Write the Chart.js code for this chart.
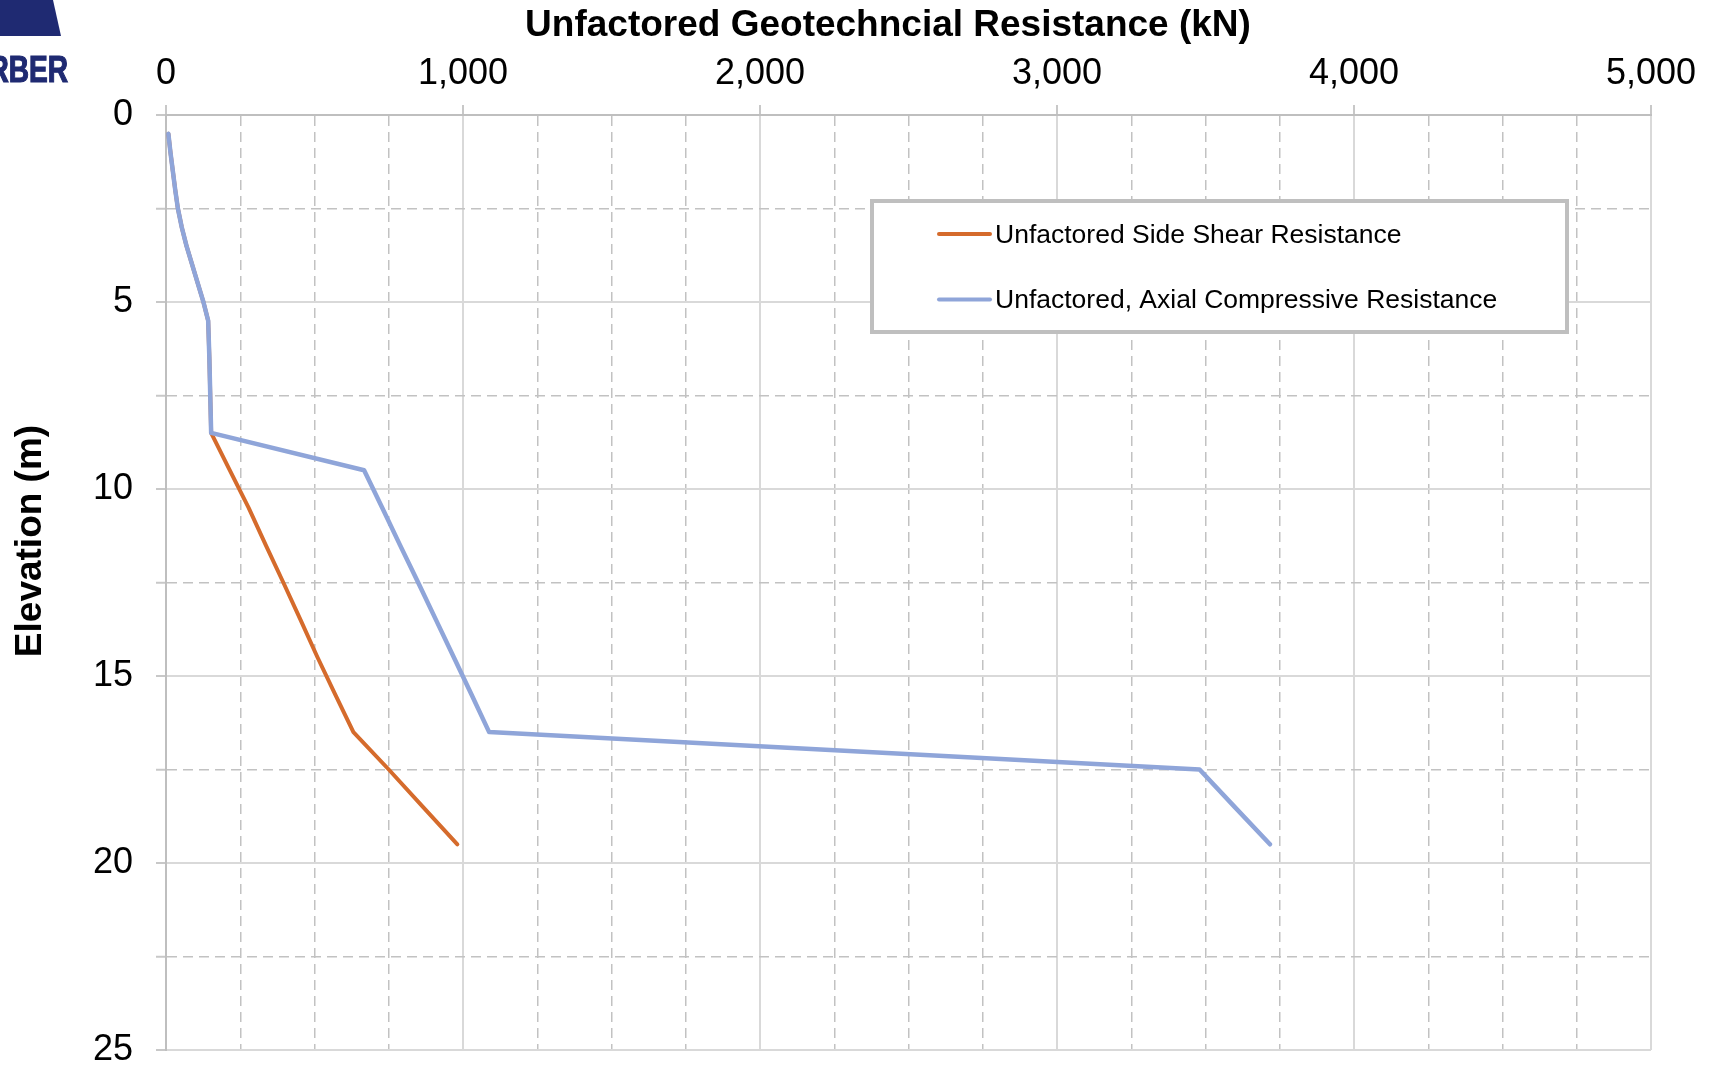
<!DOCTYPE html>
<html><head><meta charset="utf-8">
<script src="https://cdn.jsdelivr.net/npm/chart.js@4.4.0/dist/chart.umd.min.js"></script>
<style>html,body{margin:0;padding:0;background:#fff;overflow:hidden}</style>
</head><body>
<canvas id="c" width="1715" height="1071"></canvas>
<script>
// ---- data ----
const elevations = [0.5,1.0,1.5,2.0,2.5,3.0,3.5,4.0,4.5,5.0,5.5,6.5,7.5,8.5,9.5,10.5,11.5,12.5,13.5,14.5,15.5,16.5,17.5,18.5,19.5];
const sideShear = [8,15,23,31,40,53,69,88,107,126,142,146,149,152,215,278,336,395,453,510,570,631,750,865,981];
const axialCompressive = [8,15,23,31,40,53,69,88,107,126,142,146,149,152,667,728,788,849,909,969,1029,1088,3480,3598,3717];
const seriesLabels = ['Unfactored Side Shear Resistance','Unfactored, Axial Compressive Resistance'];
const xTickLabels = ['0','1,000','2,000','3,000','4,000','5,000'];
const yTickLabels = ['0','5','10','15','20','25'];
const xTitle = 'Unfactored Geotechncial Resistance (kN)';
const yTitle = 'Elevation (m)';
const logoText = 'THURBER';

const ORANGE = '#d56b2c', BLUE = '#8fa5d9';
const FONT = '"Liberation Sans", Arial, sans-serif';

function pts(xs){ return xs.map((v,i)=>({x:v, y:elevations[i]})); }
function isMult(v, m){ return Math.abs(v/m - Math.round(v/m)) < 1e-6; }

const overlay = {
  id:'overlay',
  afterDraw(chart){
    const ctx = chart.ctx;
    ctx.save();
    // logo fragment
    ctx.fillStyle = '#1f2a72';
    ctx.beginPath();
    ctx.moveTo(0,0); ctx.lineTo(53,0); ctx.lineTo(61,36); ctx.lineTo(0,36); ctx.closePath(); ctx.fill();
    ctx.save();
    ctx.scale(0.78,1);
    ctx.font = 'bold 36px ' + FONT;
    ctx.textAlign = 'right'; ctx.textBaseline = 'alphabetic';
    ctx.strokeStyle = '#1f2a72'; ctx.lineWidth = 1.2;
    ctx.fillText(logoText, 68/0.78, 82);
    ctx.strokeText(logoText, 68/0.78, 82);
    ctx.restore();

    // titles
    ctx.fillStyle = '#000';
    ctx.font = 'bold 37px ' + FONT;
    ctx.textAlign = 'center'; ctx.textBaseline = 'middle';
    ctx.fillText(xTitle, 888, 26);
    ctx.save();
    ctx.translate(31, 541); ctx.rotate(-Math.PI/2);
    ctx.fillText(yTitle, 0, 0);
    ctx.restore();

    // legend
    const L=872, T=201, R=1567, B=332;
    ctx.fillStyle = '#fff';
    ctx.fillRect(L,T,R-L,B-T);
    ctx.strokeStyle = '#bfbfbf'; ctx.lineWidth = 4;
    ctx.strokeRect(L,T,R-L,B-T);
    const rows = [234, 299.5];
    chart.data.datasets.forEach((ds,i)=>{
      ctx.strokeStyle = ds.borderColor; ctx.lineWidth = 4; ctx.lineCap='round';
      ctx.beginPath(); ctx.moveTo(939, rows[i]); ctx.lineTo(990, rows[i]); ctx.stroke();
      ctx.fillStyle = '#000';
      ctx.font = '26.5px ' + FONT;
      ctx.textAlign = 'left'; ctx.textBaseline = 'middle';
      ctx.fillText(ds.label, 995, rows[i] + 1.5);
    });
    ctx.restore();
  }
};

const gridCommon = (major) => ({
  color: c => (c.tick && isMult(c.tick.value, major)) ? '#d9d9d9' : '#c2c2c2',
  lineWidth: c => (c.tick && isMult(c.tick.value, major)) ? 2 : 1.5,
  tickLength: 10,
  tickWidth: 2,
  tickColor: '#c8c8c8'
});
const borderCommon = (major) => ({
  display: true, color: '#bfbfbf', width: 2,
  dash: c => (c && c.tick && !isMult(c.tick.value, major)) ? [10,6] : []
});

new Chart(document.getElementById('c'), {
  type: 'scatter',
  data: {
    datasets: [
      { label: seriesLabels[0], data: pts(sideShear), borderColor: ORANGE, backgroundColor: ORANGE,
        showLine: true, pointRadius: 0, borderWidth: 4, tension: 0, borderJoinStyle: 'round', borderCapStyle:'round', order: 2 },
      { label: seriesLabels[1], data: pts(axialCompressive), borderColor: BLUE, backgroundColor: BLUE,
        showLine: true, pointRadius: 0, borderWidth: 4.5, tension: 0, borderJoinStyle: 'round', borderCapStyle:'round', order: 1 }
    ]
  },
  options: {
    responsive: false, animation: false, devicePixelRatio: 1,
    layout: { padding: { left: 0, top: 0, right: 64, bottom: 21 } },
    plugins: { legend: { display: false }, tooltip: { enabled: false }, title: { display: false } },
    scales: {
      x: {
        type: 'linear', position: 'top', min: 0, max: 5000,
        ticks: { stepSize: 250, autoSkip: false, maxRotation: 0, minRotation: 0, padding: 9,
          color: '#000', font: { family: FONT, size: 36 },
          callback: v => isMult(v,1000) ? xTickLabels[Math.round(v/1000)] : '' },
        grid: Object.assign(gridCommon(1000), {
          tickColor: c => (c.tick && isMult(c.tick.value,1000)) ? '#c8c8c8' : 'rgba(0,0,0,0)' }),
        border: borderCommon(1000),
        afterFit: s => { s.height = 115; s.paddingLeft = 0; s.paddingRight = 0; }
      },
      y: {
        type: 'linear', reverse: true, min: 0, max: 25,
        ticks: { stepSize: 2.5, autoSkip: false, padding: 23,
          color: '#000', font: { family: FONT, size: 36 },
          callback: v => isMult(v,5) ? yTickLabels[Math.round(v/5)] : '' },
        grid: gridCommon(5),
        border: borderCommon(5),
        afterFit: s => { s.width = 166; s.paddingTop = 0; s.paddingBottom = 0; }
      }
    }
  },
  plugins: [overlay]
});
</script>
</body></html>
